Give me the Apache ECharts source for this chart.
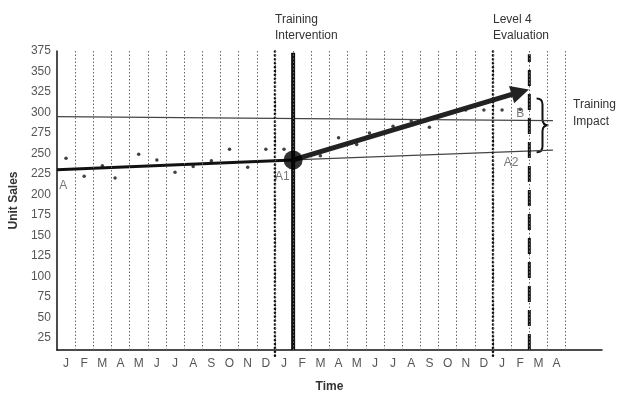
<!DOCTYPE html>
<html>
<head>
<meta charset="utf-8">
<script src="https://cdn.jsdelivr.net/npm/echarts@6/dist/echarts.min.js"></script>
<style>
  html, body { margin: 0; padding: 0; background: #fff; }
  #chart { width: 626px; height: 398px; }
</style>
</head>
<body>
<div id="chart"></div>
<script>
// month letters under each column (two years + four months)
const monthLabels = ['J','F','M','A','M','J','J','A','S','O','N','D',
                     'J','F','M','A','M','J','J','A','S','O','N','D',
                     'J','F','M','A']
const yTicks = [25, 50, 75, 100, 125, 150, 175, 200, 225, 250, 275, 300, 325, 350, 375]

// monthly unit sales (x = month position, y = units)
const salesMonth = [0.5, 1.5, 2.5, 3.2, 4.5, 5.5, 6.5, 7.5, 8.5, 9.5, 10.5, 11.5, 12.5,
                    14.5, 15.5, 16.5, 17.2, 18.5, 19.5, 20.5, 22.5, 23.5, 24.5, 25.5]
const salesValue = [244, 222, 235, 220, 249, 242, 227, 234, 241, 255, 233, 255, 255,
                    247, 269, 261, 275, 283, 290, 282, 303, 303, 303, 304]

// trend lines
const baselineTrend = [[0, 230], [13, 242]]
const baselineProjection = [[13, 242], [27.3, 254]]
const upperReference = [[0, 295], [27.3, 290]]
const impactArrow = [[13, 242], [25.5, 325]]
const interventionPoint = [[13, 242]]

// vertical markers (month boundaries)
const gridMonths = [1, 2, 3, 4, 5, 6, 7, 8, 9, 10, 11, 12, 13, 14, 15, 16, 17, 18, 19, 20,
                    21, 22, 23, 24, 25, 26, 27, 28]
const interventionMonth = 12
const trainingMonth = 13
const level4Month = 24
const evaluationMonth = 26

// point letters on the chart
const pointNotes = [[0.35, 210, 'A'], [12.4, 221, 'A1'], [25.0, 239, 'A2'], [25.5, 298, 'B']]
// brace: month, top, bottom, tip month
const impactBrace = [[26.4, 317, 251.5, 27.05]]

const chart = echarts.init(document.getElementById('chart'))
const font = '"Liberation Sans", Arial, Helvetica, sans-serif'

const option = {
  backgroundColor: '#fff',
  animation: false,
  textStyle: { fontFamily: font },
  grid: { left: 56, right: 24, top: 51, bottom: 47 },
  xAxis: {
    type: 'value',
    min: 0,
    max: 30,
    name: 'Time',
    nameLocation: 'middle',
    nameGap: 31,
    nameTextStyle: { fontSize: 12, fontWeight: 'bold', color: '#333' },
    axisLine: { lineStyle: { color: '#111', width: 1.5 } },
    axisTick: { show: false },
    splitLine: { show: false },
    axisLabel: {
      customValues: monthLabels.map((m, i) => i + 0.5),
      formatter: v => monthLabels[Math.floor(v)],
      color: '#555',
      fontSize: 12,
      margin: 8
    }
  },
  yAxis: {
    type: 'value',
    min: 10,
    max: 375,
    name: 'Unit Sales',
    nameLocation: 'middle',
    nameGap: 31,
    nameTextStyle: { fontSize: 12, fontWeight: 'bold', color: '#333' },
    axisLine: { show: true, lineStyle: { color: '#111', width: 1.5 } },
    axisTick: { show: false },
    splitLine: { show: false },
    axisLabel: { customValues: yTicks, color: '#555', fontSize: 12, margin: 6 }
  },
  graphic: [
    { type: 'text', left: 275, top: 12,
      style: { text: 'Training\nIntervention', fill: '#333', font: '12px ' + font, lineHeight: 16 } },
    { type: 'text', left: 493, top: 12,
      style: { text: 'Level 4\nEvaluation', fill: '#333', font: '12px ' + font, lineHeight: 16 } },
    { type: 'text', left: 573, top: 96,
      style: { text: 'Training\nImpact', fill: '#333', font: '12px ' + font, lineHeight: 17 } }
  ],
  series: [
    {
      // month grid lines
      type: 'line',
      data: [],
      markLine: {
        silent: true,
        symbol: 'none',
        label: { show: false },
        lineStyle: { color: '#666', width: 1, type: [1.5, 2] },
        data: gridMonths.map(m => ({ xAxis: m }))
      }
    },
    {
      type: 'line',
      data: upperReference,
      showSymbol: false,
      lineStyle: { color: '#444', width: 1.2 }
    },
    {
      type: 'line',
      data: baselineProjection,
      showSymbol: false,
      lineStyle: { color: '#444', width: 1.2 }
    },
    {
      type: 'line',
      data: [[interventionMonth, 3], [interventionMonth, 375]],
      clip: false,
      showSymbol: false,
      lineStyle: { color: '#111', width: 2.6, type: [0.1, 3.8], cap: 'round' }
    },
    {
      type: 'line',
      data: [[level4Month, 3], [level4Month, 375]],
      clip: false,
      showSymbol: false,
      lineStyle: { color: '#111', width: 2.6, type: [0.1, 3.8], cap: 'round' }
    },
    {
      type: 'line',
      data: [[trainingMonth, 10], [trainingMonth, 373]],
      showSymbol: false,
      lineStyle: { color: '#111', width: 4 }
    },
    {
      type: 'line',
      data: [[evaluationMonth, 10], [evaluationMonth, 371]],
      showSymbol: false,
      lineStyle: { color: '#111', width: 3, type: [16, 8] }
    },
    {
      type: 'line',
      data: baselineTrend,
      showSymbol: false,
      lineStyle: { color: '#111', width: 3 }
    },
    {
      type: 'scatter',
      data: salesMonth.map((m, i) => [m, salesValue[i]]),
      symbolSize: 3.5,
      itemStyle: { color: '#111' }
    },
    {
      type: 'line',
      data: [],
      markLine: {
        silent: true,
        symbol: ['none', 'triangle'],
        symbolSize: 18,
        label: { show: false },
        lineStyle: { color: '#222', width: 5, type: 'solid' },
        data: [[{ coord: impactArrow[0] }, { coord: impactArrow[1] }]]
      }
    },
    {
      type: 'scatter',
      data: interventionPoint,
      symbolSize: 19,
      itemStyle: { color: '#000' },
      z: 5
    },
    {
      type: 'scatter',
      data: pointNotes,
      symbolSize: 1,
      itemStyle: { color: 'transparent' },
      label: {
        show: true,
        position: 'inside',
        formatter: p => p.data[2],
        color: '#555',
        fontSize: 12
      }
    },
    {
      type: 'custom',
      data: impactBrace,
      renderItem: (params, api) => {
        const top = api.coord([api.value(0), api.value(1)])
        const bot = api.coord([api.value(0), api.value(2)])
        const tip = api.coord([api.value(3), api.value(1)])
        const x0 = top[0], x2 = tip[0], x1 = (x0 + x2) / 2
        const y0 = top[1], y2 = bot[1], ym = (y0 + y2) / 2
        const r = 6
        const d = `M${x0},${y0} Q${x1},${y0} ${x1},${y0 + r} L${x1},${ym - r} ` +
                  `Q${x1},${ym} ${x2},${ym} Q${x1},${ym} ${x1},${ym + r} ` +
                  `L${x1},${y2 - r} Q${x1},${y2} ${x0},${y2}`
        return {
          type: 'path',
          shape: { pathData: d },
          style: { stroke: '#111', fill: 'none', lineWidth: 2 }
        }
      }
    }
  ]
}

chart.setOption(option)
</script>
</body>
</html>
